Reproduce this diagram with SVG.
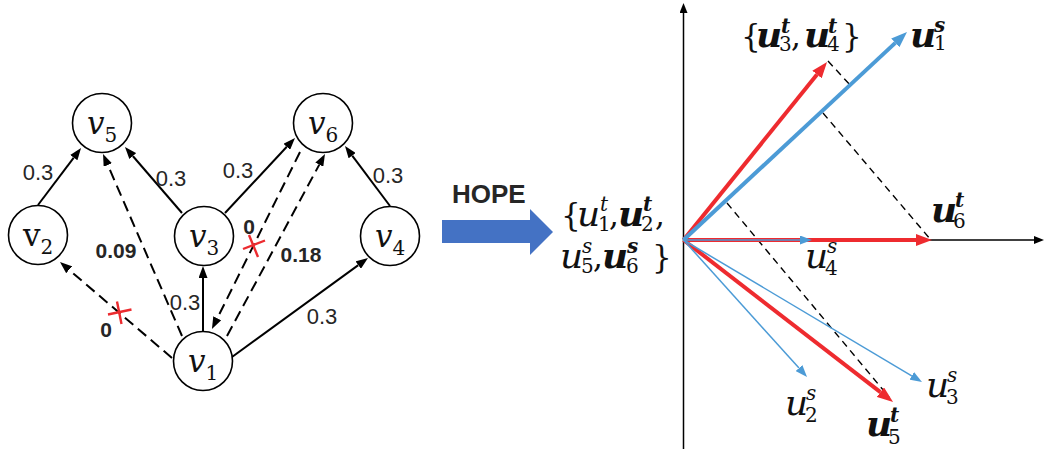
<svg xmlns="http://www.w3.org/2000/svg" width="1045" height="449" viewBox="0 0 1045 449">
<defs>
<style>
.node circle{fill:#fff;stroke:#000;stroke-width:1.6}
.e{stroke:#000;stroke-width:2;fill:none}
.d{stroke-dasharray:11 6}
.pd{stroke:#000;stroke-width:1.4;stroke-dasharray:7 5;fill:none}
.lbl{font-family:"Liberation Sans",Arial,sans-serif;font-size:22px;fill:#262626;text-anchor:middle}
.bl{font-family:"Liberation Sans",Arial,sans-serif;font-size:21px;font-weight:bold;fill:#262626;text-anchor:middle}
.nv{font-family:"DejaVu Serif",serif;font-style:italic;font-size:31px;fill:#111;text-anchor:middle}
.nv.rm{font-style:normal}
.m{font-family:"DejaVu Serif",serif;font-style:italic;font-size:36px;fill:#111}
.b{font-weight:bold}
.up{font-style:normal;font-weight:normal;font-size:31px}
.ss{font-size:20px}
.sd{font-size:20px;font-style:normal;font-weight:normal}
.x{stroke:#ec2b2f;stroke-width:2.4}
.ax{stroke:#000;stroke-width:1.5;fill:none}
.red{stroke:#ee2b2f;stroke-width:4;fill:none}
.bt{stroke:#4c9bd6;stroke-width:4;fill:none}
.bn{stroke:#4c9bd6;stroke-width:1.5;fill:none}
</style>
<marker id="ak" markerUnits="userSpaceOnUse" markerWidth="12" markerHeight="9" refX="0" refY="4.5" orient="auto"><path d="M0,0 L12,4.5 L0,9 z" fill="#000"/></marker>
<marker id="aa" markerUnits="userSpaceOnUse" markerWidth="10" markerHeight="8" refX="0" refY="4" orient="auto"><path d="M0,0 L10,4 L0,8 z" fill="#000"/></marker>
<marker id="ar" markerUnits="userSpaceOnUse" markerWidth="16" markerHeight="12" refX="0" refY="6" orient="auto"><path d="M0,0 L16,6 L0,12 z" fill="#ee2b2f"/></marker>
<marker id="ab" markerUnits="userSpaceOnUse" markerWidth="16" markerHeight="12" refX="0" refY="6" orient="auto"><path d="M0,0 L16,6 L0,12 z" fill="#4c9bd6"/></marker>
<marker id="an" markerUnits="userSpaceOnUse" markerWidth="12" markerHeight="9" refX="0" refY="4.5" orient="auto"><path d="M0,0 L12,4.5 L0,9 z" fill="#4c9bd6"/></marker>
</defs>

<g id="connectors">
<line class="e" x1="38" y1="205" x2="73.8" y2="157.6" marker-end="url(#ak)"/>
<line class="e" x1="182" y1="213" x2="132.8" y2="156" marker-end="url(#ak)"/>
<line class="e" x1="225" y1="213" x2="286.8" y2="146.8" marker-end="url(#ak)"/>
<line class="e" x1="390" y1="206" x2="352.2" y2="155.6" marker-end="url(#ak)"/>
<line class="e" x1="203" y1="331" x2="203" y2="278" marker-end="url(#ak)"/>
<line class="e" x1="232" y1="357" x2="358.3" y2="265.1" marker-end="url(#ak)"/>
<line class="e d" x1="172" y1="358" x2="69.1" y2="269.8" marker-end="url(#ak)"/>
<line class="e d" x1="182" y1="336" x2="107.8" y2="165" marker-end="url(#ak)"/>
<line class="e d" x1="300" y1="152" x2="217.3" y2="318.3" marker-end="url(#ak)"/>
<line class="e d" x1="227" y1="336" x2="319.3" y2="164.6" marker-end="url(#ak)"/>
<text class="lbl" x="38" y="180">0.3</text>
<text class="lbl" x="171" y="186">0.3</text>
<text class="lbl" x="238" y="178">0.3</text>
<text class="lbl" x="388" y="183">0.3</text>
<text class="lbl" x="185" y="310">0.3</text>
<text class="lbl" x="322" y="324">0.3</text>
<text class="bl" x="116" y="258">0.09</text>
<text class="bl" x="301" y="262">0.18</text>
<text class="bl" x="106" y="337">0</text>
<text class="bl" x="249" y="234">0</text>
<g id="cross1"><line class="x" x1="108" y1="314.5" x2="131.5" y2="309.5"/><line class="x" x1="117" y1="301.5" x2="121.5" y2="324"/></g>
<g id="cross2"><line class="x" x1="243" y1="249" x2="265" y2="240.5"/><line class="x" x1="249" y1="235" x2="258" y2="257"/></g>
</g>

<g id="v5" class="node"><circle cx="102" cy="123" r="29.5"/><text class="nv" x="102" y="134">v<tspan class="sd" dy="8" font-size="21">5</tspan></text></g>
<g id="v2" class="node"><circle cx="38" cy="235" r="29.5"/><text class="nv rm" x="38" y="246">v<tspan class="sd" dy="8" font-size="21">2</tspan></text></g>
<g id="v3" class="node"><circle cx="204" cy="236" r="29.5"/><text class="nv" x="204" y="247">v<tspan class="sd" dy="8" font-size="21">3</tspan></text></g>
<g id="v6" class="node"><circle cx="323" cy="123" r="29.5"/><text class="nv" x="323" y="134">v<tspan class="sd" dy="8" font-size="21">6</tspan></text></g>
<g id="v4" class="node"><circle cx="390" cy="236" r="29.5"/><text class="nv" x="390" y="247">v<tspan class="sd" dy="8" font-size="21">4</tspan></text></g>
<g id="v1" class="node"><circle cx="203" cy="361" r="29.5"/><text class="nv" x="203" y="372">v<tspan class="sd" dy="8" font-size="21">1</tspan></text></g>

<g id="hope">
<polygon points="442,220 530,220 530,209 553,232 530,255 530,243 442,243" fill="#4472c4"/>
<text x="452" y="203" font-family="'Liberation Sans',Arial,sans-serif" font-size="26" font-weight="bold" fill="#262626">HOPE</text>
</g>

<g id="embedding-set">
<text class="m">
<tspan class="up" x="561" y="226">{</tspan><tspan x="577" y="226">u</tspan><tspan class="ss" x="600" y="211">t</tspan><tspan class="sd" x="598" y="231">1</tspan><tspan class="up" x="609" y="226">,</tspan>
<tspan class="b" x="618" y="226">u</tspan><tspan class="ss b" x="643" y="211">t</tspan><tspan class="sd" x="641" y="231">2</tspan><tspan class="up" x="655" y="226">,</tspan>
<tspan x="560" y="268">u</tspan><tspan class="ss" x="582" y="253">s</tspan><tspan class="sd" x="581" y="273">5</tspan><tspan class="up" x="593" y="268">,</tspan>
<tspan class="b" x="602" y="268">u</tspan><tspan class="ss b" x="627" y="253">s</tspan><tspan class="sd" x="626" y="273">6</tspan><tspan class="up" x="652" y="268">}</tspan>
</text>
</g>

<g id="plot">
<line class="ax" x1="683.5" y1="449" x2="683.5" y2="13" marker-end="url(#aa)"/>
<line class="ax" x1="683.5" y1="240" x2="1034" y2="240" marker-end="url(#aa)"/>
<line class="pd" x1="828" y1="61" x2="851" y2="86"/>
<line class="pd" x1="823" y1="113" x2="931" y2="240"/>
<line class="pd" x1="727" y1="203" x2="889" y2="397"/>
<line class="red" x1="683.5" y1="240" x2="817" y2="74.5" marker-end="url(#ar)"/>
<line class="red" x1="683.5" y1="240" x2="916" y2="240" marker-end="url(#ar)"/>
<line class="red" x1="683.5" y1="240" x2="880.4" y2="392.2" marker-end="url(#ar)"/>
<line class="bt" x1="683.5" y1="240" x2="895.3" y2="42.9" marker-end="url(#ab)"/>
<line class="bn" x1="683.5" y1="240" x2="800" y2="240" marker-end="url(#an)"/>
<line class="bn" x1="683.5" y1="240" x2="799" y2="368.1" marker-end="url(#an)"/>
<line class="bn" x1="683.5" y1="240" x2="911.7" y2="375.9" marker-end="url(#an)"/>
<text class="m">
<tspan class="up" x="741" y="47">{</tspan><tspan class="b" x="756" y="47">u</tspan><tspan class="ss b" x="781" y="33">t</tspan><tspan class="sd" x="779" y="51">3</tspan><tspan class="up" x="791" y="47">,</tspan><tspan class="b" x="804" y="47">u</tspan><tspan class="ss b" x="828" y="33">t</tspan><tspan class="sd" x="827" y="51">4</tspan><tspan class="up" x="842" y="47">}</tspan>
</text>
<text class="m"><tspan class="b" x="910" y="47">u</tspan><tspan class="ss b" x="934" y="32">s</tspan><tspan class="sd" x="934" y="50">1</tspan></text>
<text class="m"><tspan class="b" x="931" y="222">u</tspan><tspan class="ss b" x="955" y="207">t</tspan><tspan class="sd" x="953" y="228">6</tspan></text>
<text class="m"><tspan x="805" y="268">u</tspan><tspan class="ss" x="827" y="253">s</tspan><tspan class="sd" x="825" y="275">4</tspan></text>
<text class="m"><tspan x="785" y="415">u</tspan><tspan class="ss" x="806" y="400">s</tspan><tspan class="sd" x="805" y="422">2</tspan></text>
<text class="m"><tspan x="926" y="397">u</tspan><tspan class="ss" x="947" y="382">s</tspan><tspan class="sd" x="946" y="404">3</tspan></text>
<text class="m"><tspan class="b" x="866" y="436">u</tspan><tspan class="ss b" x="890" y="422">t</tspan><tspan class="sd" x="888" y="444">5</tspan></text>
</g>
</svg>
